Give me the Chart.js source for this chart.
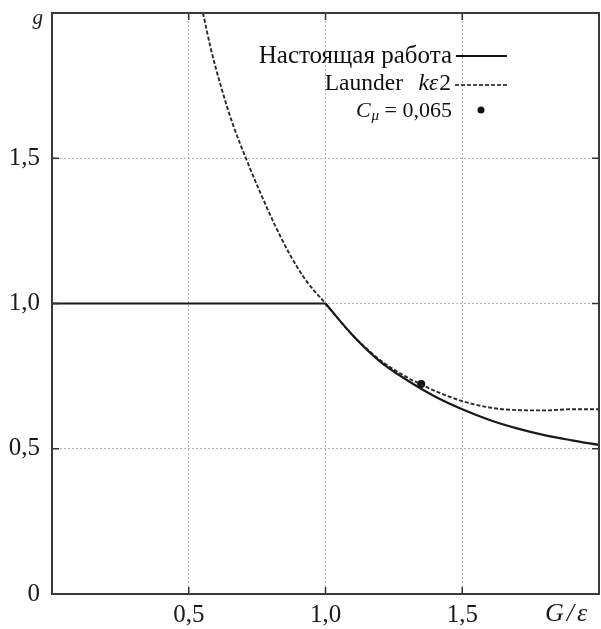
<!DOCTYPE html>
<html><head><meta charset="utf-8">
<script src="https://cdn.jsdelivr.net/npm/chart.js@4/dist/chart.umd.min.js"></script>
<style>html,body{margin:0;padding:0;background:#fff;} #wrap{width:601px;height:629px;}</style>
</head><body><div id="wrap"><canvas id="c" width="601" height="629"></canvas></div>
<script>
const xTickValues = [0, 0.5, 1.0, 1.5, 2.0];
const xTickLabels = ['', '0,5', '1,0', '1,5', ''];
const yTickValues = [0, 0.5, 1.0, 1.5, 2.0];
const yTickLabels = ['0', '0,5', '1,0', '1,5', ''];

const presentFlatX = [0, 1.0];
const presentFlatG = [1.0, 1.0];
const presentX = [1.0, 1.1, 1.2, 1.3, 1.4, 1.5, 1.6, 1.7, 1.8, 1.9, 2.0];
const presentG = [1.0, 0.89, 0.80, 0.735, 0.68, 0.636, 0.599, 0.57, 0.547, 0.529, 0.513];
const launderX = [0.552, 0.58, 0.62, 0.66, 0.709, 0.76, 0.815, 0.87, 0.93, 1.0, 1.1, 1.2, 1.3, 1.35, 1.4, 1.5, 1.6, 1.7, 1.8, 1.9, 2.0];
const launderG = [2.0, 1.88, 1.74, 1.62, 1.5, 1.385, 1.27, 1.168, 1.078, 1.0, 0.89, 0.805, 0.745, 0.721, 0.699, 0.664, 0.642, 0.633, 0.632, 0.636, 0.636];
const cmuX = [1.35];
const cmuG = [0.723];

const legendLabels = ['Настоящая работа', 'Launder', 'kε', '2', 'C', 'μ', ' = 0,065'];
const axisTitleX = ['G', '/', 'ε'];
const axisTitleY = 'g';

const SERIF = '"Liberation Serif", "DejaVu Serif", serif';
const zip = (xs, ys) => xs.map((x, i) => ({x: x, y: ys[i]}));
const noPad = s => { s.paddingTop = 0; s.paddingBottom = 0; s.paddingLeft = 0; s.paddingRight = 0; };

const overlay = {
  id: 'overlay',
  afterDraw(chart) {
    const ctx = chart.ctx;
    const a = chart.chartArea;
    const xs = chart.scales.x, ys = chart.scales.y;
    ctx.save();
    // inward tick marks
    ctx.strokeStyle = '#333';
    ctx.lineWidth = 1.5;
    const tl = 7;
    [0.5, 1.0, 1.5].forEach(v => {
      const px = xs.getPixelForValue(v);
      const py = ys.getPixelForValue(v);
      ctx.beginPath();
      ctx.moveTo(px, a.bottom); ctx.lineTo(px, a.bottom - tl);
      ctx.moveTo(px, a.top); ctx.lineTo(px, a.top + tl);
      ctx.moveTo(a.left, py); ctx.lineTo(a.left + tl, py);
      ctx.moveTo(a.right, py); ctx.lineTo(a.right - tl, py);
      ctx.stroke();
    });
    // frame
    ctx.strokeStyle = '#3a3a3a';
    ctx.lineWidth = 2;
    ctx.strokeRect(a.left, a.top, a.right - a.left, a.bottom - a.top);

    // axis titles
    ctx.fillStyle = '#1a1a1a';
    ctx.font = 'italic 26px ' + SERIF;
    ctx.textBaseline = 'alphabetic';
    ctx.textAlign = 'left';
    let tx = 545;
    ctx.fillText(axisTitleX[0], tx, 621);
    tx += ctx.measureText(axisTitleX[0]).width + 3;
    ctx.fillText(axisTitleX[1], tx, 621);
    tx += ctx.measureText(axisTitleX[1]).width + 3;
    ctx.fillText(axisTitleX[2], tx, 621);
    ctx.font = 'italic 21px ' + SERIF;
    ctx.textAlign = 'right';
    ctx.fillText(axisTitleY, 43, 24);

    // legend
    const rx = 452;
    const f1 = '25px ' + SERIF, f2 = '23.5px ' + SERIF, fi2 = 'italic 23.5px ' + SERIF;
    const f3 = '22px ' + SERIF, fi3 = 'italic 22px ' + SERIF, fs = 'italic 15px ' + SERIF;
    ctx.textBaseline = 'middle';
    ctx.textAlign = 'right';
    ctx.fillStyle = '#111';
    // row 1
    ctx.font = f1;
    ctx.fillText(legendLabels[0], rx, 56);
    ctx.strokeStyle = '#111';
    ctx.lineWidth = 2;
    ctx.setLineDash([]);
    ctx.beginPath(); ctx.moveTo(456, 56); ctx.lineTo(507, 56); ctx.stroke();
    // row 2
    ctx.font = f2;
    ctx.fillText(legendLabels[3], rx - 1, 84);
    const w2 = ctx.measureText(legendLabels[3]).width;
    ctx.font = fi2;
    ctx.fillText(legendLabels[2], rx - 2 - w2, 84);
    ctx.font = f2;
    ctx.fillText(legendLabels[1], 403, 84);
    ctx.lineWidth = 1.6;
    ctx.setLineDash([4, 2]);
    ctx.beginPath(); ctx.moveTo(455, 85); ctx.lineTo(507, 85); ctx.stroke();
    ctx.setLineDash([]);
    // row 3
    ctx.font = f3;
    ctx.fillText(legendLabels[6], rx, 111);
    const w3 = ctx.measureText(legendLabels[6]).width;
    ctx.font = fs;
    ctx.fillText(legendLabels[5], rx - w3, 116);
    const w4 = ctx.measureText(legendLabels[5]).width;
    ctx.font = fi3;
    ctx.fillText(legendLabels[4], rx - w3 - w4 - 1, 111);
    ctx.beginPath(); ctx.arc(481, 110, 3.5, 0, Math.PI * 2); ctx.fill();
    ctx.restore();
  }
};

new Chart(document.getElementById('c'), {
  type: 'scatter',
  data: {
    datasets: [
      { label: 'Настоящая работа', data: zip(presentFlatX, presentFlatG), showLine: true, borderColor: '#1a1a1a', borderWidth: 2.2, pointRadius: 0, pointHoverRadius: 0, tension: 0 },
      { label: 'Настоящая работа ', data: zip(presentX, presentG), showLine: true, borderColor: '#1a1a1a', borderWidth: 2.2, pointRadius: 0, pointHoverRadius: 0, cubicInterpolationMode: 'monotone' },
      { label: 'Launder kε2', data: zip(launderX, launderG), showLine: true, borderColor: '#2a2a2a', borderWidth: 1.9, borderDash: [4, 2], pointRadius: 0, pointHoverRadius: 0, cubicInterpolationMode: 'monotone' },
      { label: 'Cμ = 0,065', data: zip(cmuX, cmuG), showLine: false, pointRadius: 4, backgroundColor: '#111', borderColor: '#111', borderWidth: 0 }
    ]
  },
  options: {
    responsive: false,
    animation: false,
    devicePixelRatio: 1,
    layout: { autoPadding: false, padding: { top: 13, right: 2, left: 0, bottom: 0 } },
    plugins: { legend: { display: false }, tooltip: { enabled: false } },
    scales: {
      x: {
        type: 'linear', min: 0, max: 2,
        afterBuildTicks: s => { s.ticks = xTickValues.map(v => ({ value: v })); },
        afterFit: s => { s.height = 35; noPad(s); },
        ticks: {
          padding: 9, color: '#1a1a1a',
          font: { family: SERIF, size: 25, lineHeight: 1 },
          callback: (v, i) => xTickLabels[i]
        },
        grid: { color: '#b5b5b5', lineWidth: 1, drawTicks: false },
        border: { display: false, dash: [2, 2] }
      },
      y: {
        type: 'linear', min: 0, max: 2,
        afterBuildTicks: s => { s.ticks = yTickValues.map(v => ({ value: v })); },
        afterFit: s => { s.width = 52; noPad(s); },
        ticks: {
          padding: 12, color: '#1a1a1a',
          font: { family: SERIF, size: 25, lineHeight: 1 },
          callback: (v, i) => yTickLabels[i]
        },
        grid: { color: '#b5b5b5', lineWidth: 1, drawTicks: false },
        border: { display: false, dash: [2, 2] }
      }
    }
  },
  plugins: [overlay]
});
</script>
</body></html>
